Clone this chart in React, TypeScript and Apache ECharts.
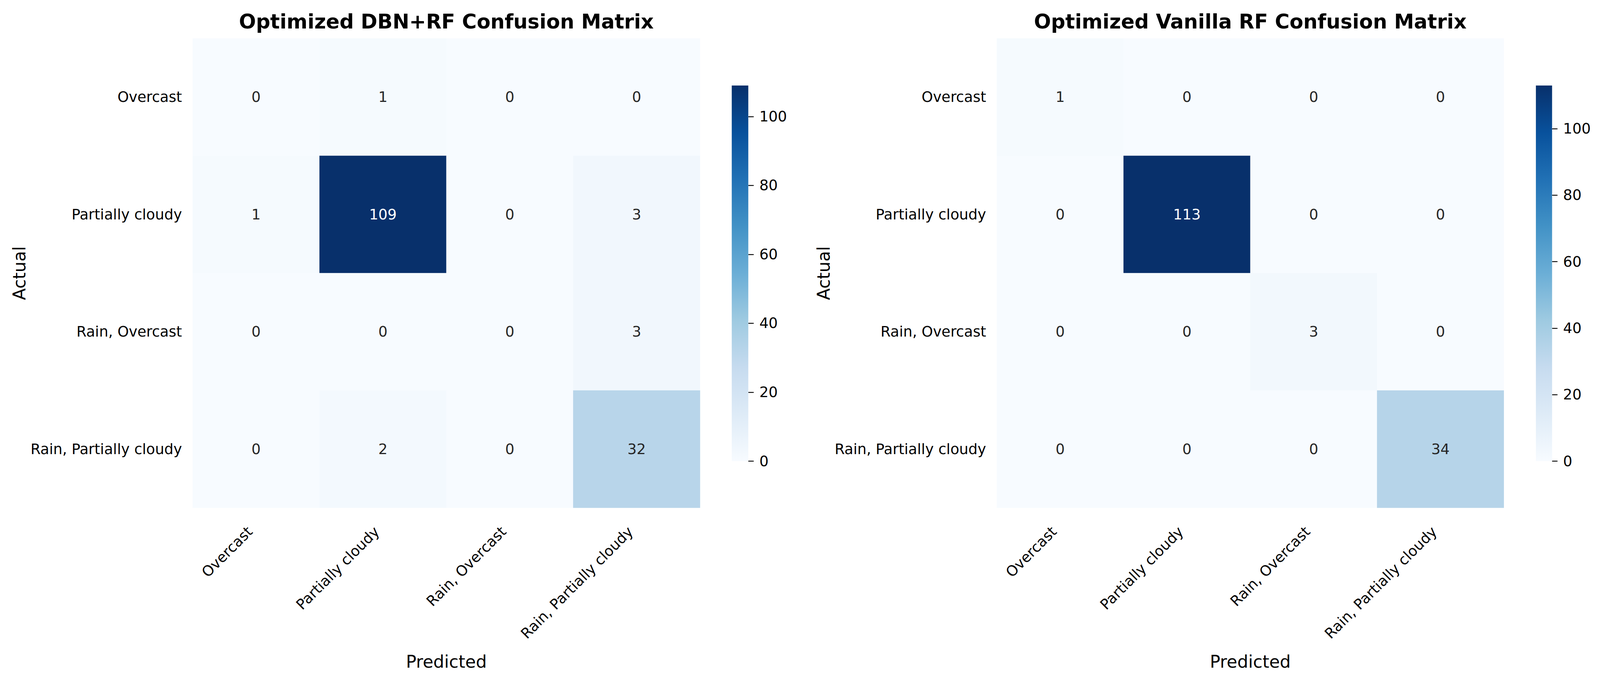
import { useEffect, useRef } from 'react'
import * as echarts from 'echarts'

// ─── data ───
const CLASSES = ['Overcast', 'Partially cloudy', 'Rain, Overcast', 'Rain, Partially cloudy']

// rows = actual, cols = predicted
const DBN_RF = [
  [0, 1, 0, 0],
  [1, 109, 0, 3],
  [0, 0, 0, 3],
  [0, 2, 0, 32],
]

const VANILLA_RF = [
  [1, 0, 0, 0],
  [0, 113, 0, 0],
  [0, 0, 3, 0],
  [0, 0, 0, 34],
]

const TITLES = ['Optimized DBN+RF Confusion Matrix', 'Optimized Vanilla RF Confusion Matrix']
const COLORBAR_TICKS = [0, 20, 40, 60, 80, 100]

// matplotlib "Blues"
const BLUES = ['#f7fbff', '#deebf7', '#c6dbef', '#9ecae1', '#6baed6', '#4292c6', '#2171b5', '#08519c', '#08306b']

const FONT = 'DejaVu Sans'

// ─── layout, in reference pixels (4642 x 1762) ───
const REF_W = 4642
const REF_H = 1762
const PANELS = [
  { heat: { left: 559, top: 98.5, width: 1472, height: 1202 }, bar: { left: 2123, top: 219, width: 48, height: 962 } },
  { heat: { left: 2892, top: 98.5, width: 1471, height: 1202 }, bar: { left: 4456, top: 219, width: 47, height: 962 } },
]

export default function App() {
  const ref = useRef<HTMLDivElement>(null)

  useEffect(() => {
    if (!ref.current) return
    document.body.style.margin = '0'
    const el = ref.current
    const chart = echarts.init(el, null, { renderer: 'svg' })

    // the window may be narrower than the reference: scale the layout to fit
    const sx = el.clientWidth / REF_W
    const sy = el.clientHeight / REF_H
    const f = Math.min(sx, sy)
    const box = (b: any) => ({ left: b.left * sx, top: b.top * sy, width: b.width * sx, height: b.height * sy })

    const matrices = [DBN_RF, VANILLA_RF]
    const grids: any[] = []
    const xAxes: any[] = []
    const yAxes: any[] = []
    const series: any[] = []
    const visualMaps: any[] = []
    const graphics: any[] = []
    const tick = { color: '#000', width: 2.6 * f }

    matrices.forEach((m, i) => {
      const max = Math.max(...m.flat())
      const p = PANELS[i]
      const gh = i * 2
      const gb = i * 2 + 1
      grids.push(box(p.heat), box(p.bar))

      // heatmap axes
      xAxes.push({
        type: 'category', gridIndex: gh, data: CLASSES,
        name: 'Predicted', nameLocation: 'middle', nameGap: 372 * sy,
        nameTextStyle: { fontSize: 50 * f, color: '#000', fontFamily: FONT },
        axisLine: { show: false },
        axisTick: { alignWithLabel: true, length: 14.5 * sy, lineStyle: tick },
        axisLabel: { rotate: 45, fontSize: 42 * f, color: '#000', fontFamily: FONT, margin: 39 * sy, padding: [0, 25 * f, 0, 0] },
        splitLine: { show: false },
      })
      yAxes.push({
        type: 'category', gridIndex: gh, data: CLASSES, inverse: true,
        name: 'Actual', nameLocation: 'middle', nameGap: 478 * sx, nameRotate: 90,
        nameTextStyle: { fontSize: 50 * f, color: '#000', fontFamily: FONT },
        axisLine: { show: false },
        axisTick: { alignWithLabel: true, length: 14.5 * sx, lineStyle: tick },
        axisLabel: { fontSize: 42 * f, color: '#000', fontFamily: FONT, margin: 31 * sx },
        splitLine: { show: false },
      })

      // colorbar axes
      xAxes.push({ type: 'category', gridIndex: gb, data: ['bar'], show: false })
      yAxes.push({
        type: 'value', gridIndex: gb, position: 'right', min: 0, max,
        axisLine: { show: false },
        axisTick: { show: true, length: 15.7 * sx, customValues: COLORBAR_TICKS, lineStyle: tick },
        axisLabel: { fontSize: 42 * f, color: '#000', fontFamily: FONT, margin: 32 * sx, customValues: COLORBAR_TICKS },
        splitLine: { show: false },
      })

      const data: any[] = []
      m.forEach((row, r) => row.forEach((v, c) => {
        data.push({
          value: [c, r, v],
          label: { color: v / max > 0.45 ? '#ffffff' : '#262626' },
        })
      }))

      series.push({
        type: 'heatmap', xAxisIndex: gh, yAxisIndex: gh, data,
        label: { show: true, fontSize: 42 * f, fontFamily: FONT, formatter: (d: any) => String(d.value[2]) },
        emphasis: { disabled: true },
      })
      series.push({
        type: 'bar', xAxisIndex: gb, yAxisIndex: gb, data: [max],
        barWidth: '100%', silent: true,
        itemStyle: {
          color: new echarts.graphic.LinearGradient(0, 1, 0, 0,
            BLUES.map((c, k) => ({ offset: k / (BLUES.length - 1), color: c }))),
        },
      })

      visualMaps.push({
        type: 'continuous', show: false, min: 0, max,
        seriesIndex: i * 2, inRange: { color: BLUES },
      })

      graphics.push({
        type: 'text',
        x: (p.heat.left + p.heat.width / 2) * sx, y: 55 * sy,
        style: { text: TITLES[i], fontSize: 58 * f, fontWeight: 'bold', fontFamily: FONT, fill: '#000', align: 'center', verticalAlign: 'middle' },
      })
    })

    chart.setOption({
      animation: false,
      backgroundColor: '#ffffff',
      textStyle: { fontFamily: FONT },
      grid: grids,
      xAxis: xAxes,
      yAxis: yAxes,
      visualMap: visualMaps,
      series,
      graphic: graphics,
    })

    return () => chart.dispose()
  }, [])

  return <div ref={ref} style={{ width: '100vw', height: '100vh' }} />
}
